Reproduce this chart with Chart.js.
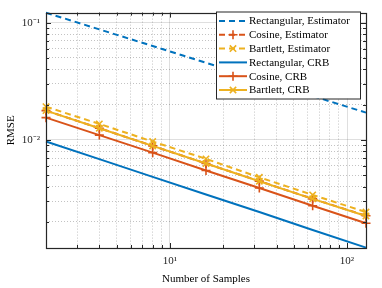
<!DOCTYPE html>
<html>
<head>
<meta charset="utf-8">
<script src="https://cdn.jsdelivr.net/npm/chart.js@4/dist/chart.umd.min.js"></script>
<style>
  html, body { margin: 0; padding: 0; background: #fff; }
  #c { display: block; }
</style>
</head>
<body>
<canvas id="c" width="382" height="288"></canvas>
<script>
// ---- data ----
const samples = [2, 4, 8, 16, 32, 64, 128];
const rectEstimator = [0.1216, 0.0876, 0.0632, 0.0455, 0.0329, 0.0237, 0.0171];
const cosineEstimator = [0.0178, 0.0126, 0.0089, 0.0063, 0.00446, 0.00315, 0.00226];
const bartlettEstimator = [0.0192, 0.0137, 0.0097, 0.0069, 0.0048, 0.0034, 0.00243];
const rectCRB = [0.0097, 0.00686, 0.00485, 0.00343, 0.00243, 0.00171, 0.00121];
const cosineCRB = [0.0155, 0.0110, 0.0078, 0.0055, 0.0039, 0.00275, 0.00195];
const bartlettCRB = [0.0178, 0.0126, 0.0089, 0.0063, 0.00445, 0.00315, 0.00225];

const seriesNames = [
  'Rectangular, Estimator', 'Cosine, Estimator', 'Bartlett, Estimator',
  'Rectangular, CRB', 'Cosine, CRB', 'Bartlett, CRB'
];
const xTickValues = [10, 100];
const xTickLabels = ['10\u00B9', '10\u00B2'];
const yTickValues = [0.01, 0.1];
const yTickLabels = ['10\u207B\u00B2', '10\u207B\u00B9'];
const xGridValues = [2, 3, 4, 5, 6, 7, 8, 9, 10, 20, 30, 40, 50, 60, 70, 80, 90, 100];
const yGridValues = [0.002, 0.003, 0.004, 0.005, 0.006, 0.007, 0.008, 0.009,
                     0.01, 0.02, 0.03, 0.04, 0.05, 0.06, 0.07, 0.08, 0.09, 0.1];
const xRange = [2, 128];
const yRange = [0.0012, 0.1218];

// ---- styling ----
const BLUE = '#0072BD', ORANGE = '#D95319', YELLOW = '#EDB120';
const FONT = '"Liberation Serif", "Times New Roman", serif';
const AXC = '#262626';

function near(a, b) { return Math.abs(a - b) / b < 1e-6; }
function isMajor(v) { return Math.abs(Math.log10(v) - Math.round(Math.log10(v))) < 1e-6; }
function labelFor(v, vals, labs) {
  for (let i = 0; i < vals.length; i++) if (near(v, vals[i])) return labs[i];
  return '';
}
function pts(arr) { return samples.map((n, i) => ({ x: n, y: arr[i] })); }

const styles = [
  { color: BLUE, dash: [6, 4], marker: false },
  { color: ORANGE, dash: [6, 4], marker: 'cross' },
  { color: YELLOW, dash: [6, 4], marker: 'crossRot' },
  { color: BLUE, dash: [], marker: false },
  { color: ORANGE, dash: [], marker: 'cross' },
  { color: YELLOW, dash: [], marker: 'crossRot' }
];
const allSeries = [rectEstimator, cosineEstimator, bartlettEstimator, rectCRB, cosineCRB, bartlettCRB];

const datasets = allSeries.map((arr, i) => ({
  label: seriesNames[i],
  data: pts(arr),
  borderColor: styles[i].color,
  backgroundColor: styles[i].color,
  borderWidth: 2,
  borderDash: styles[i].dash,
  pointStyle: styles[i].marker || 'circle',
  pointRadius: styles[i].marker ? 4.5 : 0,
  pointBorderWidth: 1.6,
  pointBorderColor: styles[i].color,
  pointHoverRadius: 0,
  tension: 0,
  fill: false,
  clip: false,
  order: 6 - i
}));

const decor = {
  id: 'decor',
  afterDraw(chart) {
    const { ctx, chartArea: a, scales: { x, y } } = chart;
    ctx.save();
    ctx.strokeStyle = AXC;
    ctx.lineWidth = 1;
    ctx.setLineDash([]);
    ctx.beginPath();
    xGridValues.forEach(v => {
      const p = Math.round(x.getPixelForValue(v)) + 0.5;
      const len = isMajor(v) ? 5 : 3;
      ctx.moveTo(p, a.bottom); ctx.lineTo(p, a.bottom - len);
      ctx.moveTo(p, a.top); ctx.lineTo(p, a.top + len);
    });
    yGridValues.forEach(v => {
      const p = Math.round(y.getPixelForValue(v)) + 0.5;
      const len = isMajor(v) ? 5 : 3;
      ctx.moveTo(a.left, p); ctx.lineTo(a.left + len, p);
      ctx.moveTo(a.right, p); ctx.lineTo(a.right - len, p);
    });
    ctx.stroke();
    ctx.lineWidth = 1.2;
    ctx.strokeRect(Math.round(a.left) + 0.5, Math.round(a.top) + 0.5,
                   Math.round(a.right - a.left), Math.round(a.bottom - a.top));

    // legend box
    const lx = 216, ly = 11.5, lw = 144, lh = 87;
    ctx.fillStyle = '#fff';
    ctx.fillRect(lx, ly, lw, lh);
    ctx.lineWidth = 1;
    ctx.strokeStyle = AXC;
    ctx.strokeRect(lx + 0.5, ly + 0.5, lw, lh);
    ctx.font = '11px ' + FONT;
    ctx.textBaseline = 'middle';
    ctx.textAlign = 'left';
    chart.data.datasets.forEach((ds, i) => {
      const cy = ly + 9.5 + i * 13.8;
      ctx.strokeStyle = ds.borderColor;
      ctx.lineWidth = 2;
      ctx.setLineDash(ds.borderDash || []);
      ctx.beginPath();
      ctx.moveTo(219, cy); ctx.lineTo(247, cy);
      ctx.stroke();
      ctx.setLineDash([]);
      if (ds.pointRadius > 0) {
        ctx.lineWidth = 1.6;
        ctx.beginPath();
        const r = ds.pointRadius, cx = 233;
        if (ds.pointStyle === 'cross') {
          ctx.moveTo(cx - r, cy); ctx.lineTo(cx + r, cy);
          ctx.moveTo(cx, cy - r); ctx.lineTo(cx, cy + r);
        } else {
          const d = r * 0.7071;
          ctx.moveTo(cx - d, cy - d); ctx.lineTo(cx + d, cy + d);
          ctx.moveTo(cx - d, cy + d); ctx.lineTo(cx + d, cy - d);
        }
        ctx.stroke();
      }
      ctx.fillStyle = '#000';
      ctx.fillText(ds.label, 249, cy + 0.5);
    });
    ctx.restore();
  }
};

new Chart(document.getElementById('c'), {
  type: 'line',
  data: { datasets },
  plugins: [decor],
  options: {
    responsive: false,
    animation: false,
    devicePixelRatio: 1,
    layout: { padding: { left: 5, right: 16, top: 7, bottom: 2 } },
    plugins: { legend: { display: false }, tooltip: { enabled: false } },
    scales: {
      x: {
        type: 'logarithmic',
        min: xRange[0], max: xRange[1],
        afterBuildTicks: s => { s.ticks = xGridValues.map(v => ({ value: v })); },
        afterFit: s => { s.height = 38; },
        ticks: {
          autoSkip: false, maxRotation: 0, padding: 7,
          color: AXC, font: { family: FONT, size: 11 },
          callback: v => labelFor(v, xTickValues, xTickLabels)
        },
        grid: {
          drawTicks: false,
          lineWidth: 1,
          color: c => (c.tick && isMajor(c.tick.value)) ? 'rgba(38,38,38,0.15)' : 'rgba(38,38,38,0.28)'
        },
        border: { display: false, dash: c => (c.tick && isMajor(c.tick.value)) ? [] : [1, 2] },
        title: { display: true, text: 'Number of Samples', color: '#000', font: { family: FONT, size: 11 }, padding: 0 }
      },
      y: {
        type: 'logarithmic',
        min: yRange[0], max: yRange[1],
        afterBuildTicks: s => { s.ticks = yGridValues.map(v => ({ value: v })); },
        afterFit: s => { s.width = 41; },
        ticks: {
          autoSkip: false, padding: 6,
          color: AXC, font: { family: FONT, size: 11 },
          callback: v => labelFor(v, yTickValues, yTickLabels)
        },
        grid: {
          drawTicks: false,
          lineWidth: 1,
          color: c => (c.tick && isMajor(c.tick.value)) ? 'rgba(38,38,38,0.15)' : 'rgba(38,38,38,0.28)'
        },
        border: { display: false, dash: c => (c.tick && isMajor(c.tick.value)) ? [] : [1, 2] },
        title: { display: true, text: 'RMSE', color: '#000', font: { family: FONT, size: 11 }, padding: 0 }
      }
    }
  }
});
</script>
</body>
</html>
